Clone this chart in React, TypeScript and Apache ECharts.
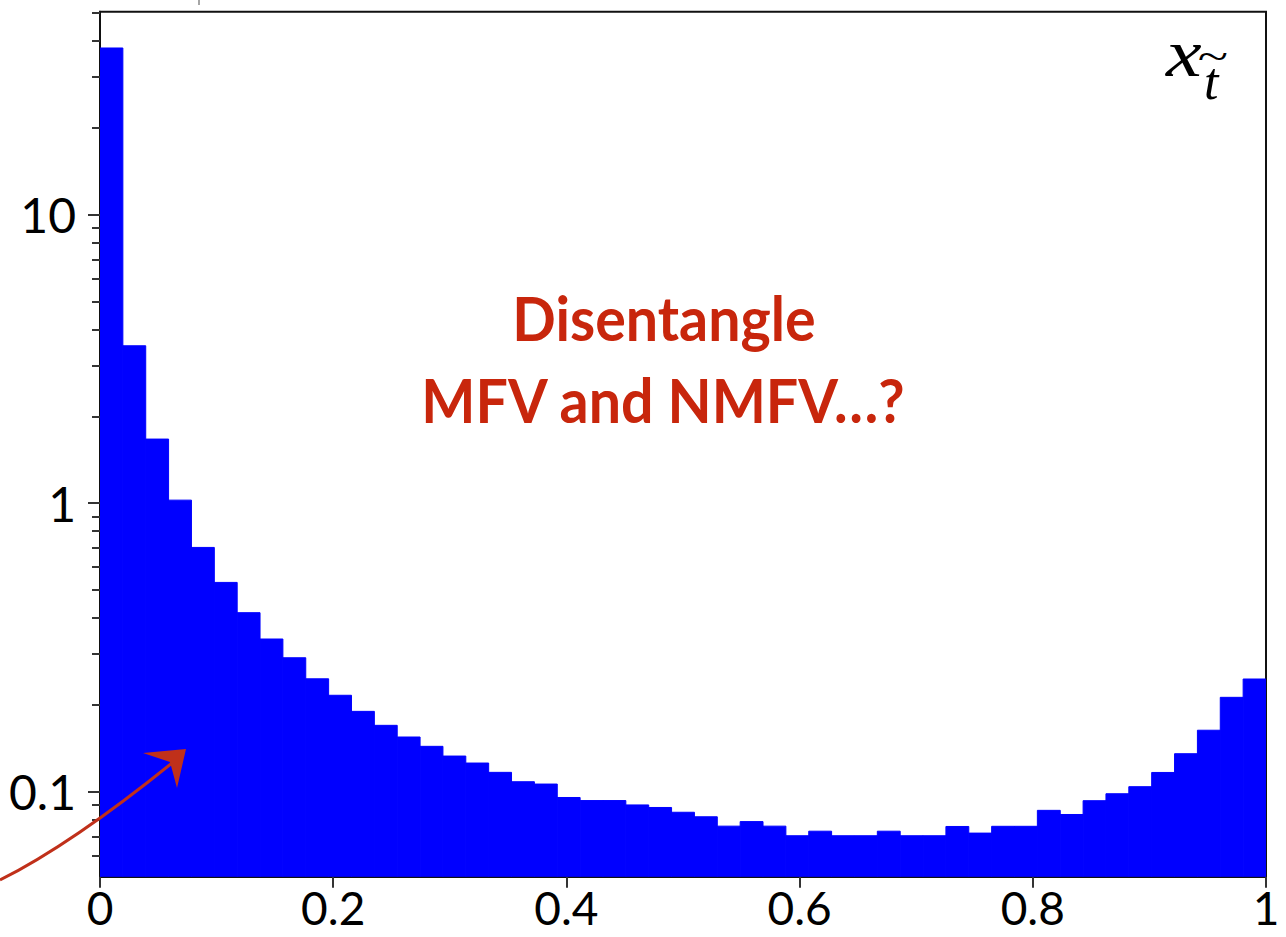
import React, { useEffect, useRef } from "react";
import * as echarts from "echarts";

// Histogram bin contents (51 equal bins over [0, 1])
const binValues: number[] = [
  37.8, 3.51, 1.667, 1.024, 0.702, 0.531, 0.417, 0.338, 0.291, 0.246,
  0.2157, 0.1897, 0.1697, 0.1546, 0.1435, 0.1328, 0.1256, 0.1166, 0.1082, 0.1062,
  0.0954, 0.0931, 0.0931, 0.0899, 0.0881, 0.0848, 0.0818, 0.0759, 0.0787, 0.0759,
  0.0703, 0.0729, 0.0703, 0.0703, 0.0729, 0.0703, 0.0703, 0.0757, 0.0718, 0.0758,
  0.0758, 0.0861, 0.0833, 0.093, 0.0983, 0.104, 0.1165, 0.1353, 0.1632, 0.2122,
  0.2456,
];
const xMin = 0;
const xMax = 1;
const yMin = 0.0507;
const yMax = 50.5;

const xTickValues = [0, 0.2, 0.4, 0.6, 0.8, 1];
const xTickLabels = ["0", "0.2", "0.4", "0.6", "0.8", "1"];
const yMajorTicks = [0.1, 1, 10];
const yMajorLabels = ["0.1", "1", "10"];
const yMinorTicks = [
  0.06, 0.07, 0.08, 0.09,
  0.2, 0.3, 0.4, 0.5, 0.6, 0.7, 0.8, 0.9,
  2, 3, 4, 5, 6, 7, 8, 9,
  20, 30, 40, 50,
];
const annotationLines = ["Disentangle", "MFV and NMFV…?"];

export default function App() {
  const ref = useRef<HTMLDivElement>(null);

  useEffect(() => {
    if (!ref.current) return;
    const chart = echarts.init(ref.current, null, { renderer: "svg" });
    const n = binValues.length;
    const binW = (xMax - xMin) / n;
    const red = "#c8260c";
    const arrowRed = "#c0301a";

    const labelFor = (vals: number[], labels: string[]) => (v: number) => {
      let best = 0;
      let bd = Infinity;
      vals.forEach((t, i) => {
        const d = Math.abs(Math.log10(Math.max(t, 1e-9)) - Math.log10(Math.max(v, 1e-9)));
        if (d < bd) { bd = d; best = i; }
      });
      return labels[best];
    };

    chart.setOption({
      animation: false,
      backgroundColor: "#ffffff",
      grid: {
        left: 100,
        right: 20,
        top: 11.7,
        bottom: 60.3,
        show: true,
        borderColor: "#111",
        borderWidth: 2,
        backgroundColor: "transparent",
      },
      xAxis: {
        type: "value",
        min: xMin,
        max: xMax,
        interval: 0.2,
        splitLine: { show: false },
        axisLine: { show: true, lineStyle: { color: "#111", width: 2 } },
        axisTick: {
          show: true,
          inside: false,
          length: 11,
          customValues: xTickValues,
          lineStyle: { color: "#333", width: 2 },
        },
        axisLabel: {
          customValues: xTickValues,
          margin: 8,
          fontFamily: "Lato",
          fontSize: 46,
          lineHeight: 46,
          color: "#000",
          formatter: (v: number) => {
            const i = xTickValues.findIndex((t) => Math.abs(t - v) < 1e-6);
            return i >= 0 ? xTickLabels[i] : "";
          },
        },
      },
      yAxis: [
        {
          type: "log",
          logBase: 10,
          min: yMin,
          max: yMax,
          splitLine: { show: false },
          axisLine: { show: true, lineStyle: { color: "#111", width: 2 } },
          axisTick: {
            show: true,
            inside: false,
            length: 12,
            customValues: yMajorTicks,
            lineStyle: { color: "#333", width: 2 },
          },
          axisLabel: {
            customValues: yMajorTicks,
            margin: 24,
            fontFamily: "Lato",
            fontSize: 48,
            color: "#000",
            formatter: labelFor(yMajorTicks, yMajorLabels),
          },
        },
        {
          type: "log",
          logBase: 10,
          min: yMin,
          max: yMax,
          position: "left",
          splitLine: { show: false },
          axisLine: { show: false },
          axisTick: {
            show: true,
            inside: false,
            length: 8,
            customValues: yMinorTicks,
            lineStyle: { color: "#333", width: 2 },
          },
          axisLabel: { show: false },
        },
      ],
      series: [
        {
          type: "custom",
          xAxisIndex: 0,
          yAxisIndex: 0,
          clip: true,
          data: binValues.map((v, i) => [xMin + (i + 0.5) * binW, v]),
          encode: { x: 0, y: 1 },
          renderItem: (params: any, api: any) => {
            const cx = api.value(0);
            const v = api.value(1);
            const p0 = api.coord([cx - binW / 2, v]);
            const p1 = api.coord([cx + binW / 2, yMin]);
            return {
              type: "rect",
              shape: { x: p0[0], y: p0[1], width: p1[0] - p0[0], height: p1[1] - p0[1] },
              style: { fill: "#0000ff", stroke: "#0000ff", lineWidth: 1 },
            };
          },
        },
      ],
      graphic: [
        {
          type: "line",
          z: 100,
          shape: { x1: 199, y1: 0, x2: 199, y2: 5 },
          style: { stroke: "#888", lineWidth: 1.5 },
        },
        {
          type: "text",
          z: 100,
          x: 664,
          y: 318,
          scaleX: 0.94,
          style: {
            text: annotationLines[0],
            align: "center",
            verticalAlign: "middle",
            fontFamily: "Lato",
            fontWeight: "bold",
            fontSize: 61,
            fill: red,
          },
        },
        {
          type: "text",
          z: 100,
          x: 663,
          y: 400,
          scaleX: 0.94,
          style: {
            text: annotationLines[1],
            align: "center",
            verticalAlign: "middle",
            fontFamily: "Lato",
            fontWeight: "bold",
            fontSize: 61,
            fill: red,
          },
        },
        {
          type: "text",
          z: 100,
          x: 1166,
          y: 53,
          scaleX: 1.18,
          style: {
            text: "x",
            align: "left",
            verticalAlign: "middle",
            fontFamily: "Liberation Serif",
            fontStyle: "italic",
            fontSize: 68,
            fill: "#000",
          },
        },
        {
          type: "text",
          z: 100,
          x: 1204,
          y: 81,
          style: {
            text: "t",
            align: "left",
            verticalAlign: "middle",
            fontFamily: "Liberation Serif",
            fontStyle: "italic",
            fontSize: 52,
            fill: "#000",
          },
        },
        {
          type: "text",
          z: 100,
          x: 1213,
          y: 57,
          scaleX: 1.4,
          style: {
            text: "~",
            align: "center",
            verticalAlign: "middle",
            fontFamily: "Liberation Serif",
            fontSize: 40,
            fill: "#000",
          },
        },
        {
          type: "bezierCurve",
          z: 100,
          shape: { x1: 0, y1: 880, cpx1: 60, cpy1: 850, cpx2: 120, cpy2: 805, x2: 172, y2: 763 },
          style: { stroke: arrowRed, lineWidth: 3, fill: null },
        },
        {
          type: "polygon",
          z: 100,
          shape: { points: [[186, 749], [143, 753], [170, 762], [177, 788]] },
          style: { fill: arrowRed },
        },
      ],
    });

    return () => chart.dispose();
  }, []);

  return (
    <div
      ref={ref}
      style={{ position: "fixed", left: 0, top: 0, width: 1286, height: 937, background: "#fff" }}
    />
  );
}
